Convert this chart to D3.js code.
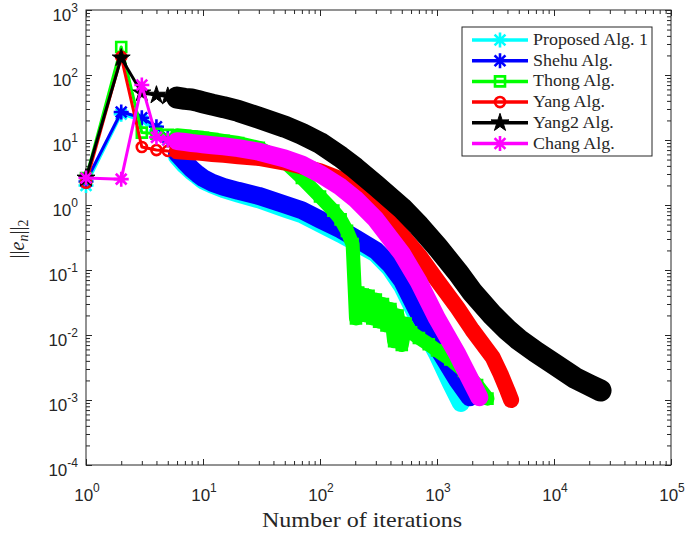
<!DOCTYPE html>
<html><head><meta charset="utf-8">
<script src="https://cdn.jsdelivr.net/npm/d3@7"></script>
<style>body{margin:0;background:#fff}svg{display:block}</style>
</head><body><svg id="c" width="685" height="533"></svg>
<script>
// ---------- data ----------
const xTickVals = [1, 10, 100, 1000, 10000, 100000];
const xTickExp  = ["0", "1", "2", "3", "4", "5"];
const yTickVals = [1e3, 1e2, 1e1, 1, 1e-1, 1e-2, 1e-3, 1e-4];
const yTickExp  = ["3", "2", "1", "0", "-1", "-2", "-3", "-4"];
const seriesNames = ["Proposed Alg. 1", "Shehu Alg.", "Thong Alg.", "Yang Alg.", "Yang2 Alg.", "Chang Alg."];

const propIter = [1,2,3,4,5,6,7,8,9,10,12,15,20,30,50,70,100,150,200,300,400,500,700,1000,1300,1600];
const propVal  = [2.0,25,20,14,10,5.6,4.1,3.3,2.8,2.4,2.05,1.75,1.5,1.22,0.88,0.72,0.52,0.36,0.27,0.18,0.105,0.058,0.017,0.0052,0.0019,0.0009];

const shehuIter = [1,2,3,4,5,6,7,8,9,10,12,15,20,30,50,70,100,150,200,300,400,500,700,1000,1500,1900];
const shehuVal  = [2.3,27,22,16,11,6.2,4.6,3.6,3.0,2.6,2.2,1.9,1.65,1.38,1.02,0.83,0.6,0.42,0.31,0.2,0.12,0.07,0.021,0.0066,0.002,0.0011];

const thongIter = [1,2,3,4,5,6,7,8,9,10,12,15,20,30,50,70,100,130,150,170,190,198,203,212,220,232,245,260,280,300,320,345,370,400,430,460,500,540,600,700,850,1000,1300,1700,2200,2700];
const thongVal  = [2.6,270,13,12.5,12,11.8,11.5,11.2,11,10.8,10.3,9.7,9.0,7.6,4.6,2.6,1.35,0.82,0.6,0.4,0.25,0.05,0.018,0.045,0.02,0.042,0.02,0.04,0.018,0.035,0.016,0.03,0.014,0.025,0.008,0.02,0.007,0.015,0.011,0.009,0.0072,0.0058,0.0042,0.0028,0.0017,0.00105];

const yangIter = [1,2,3,4,5,6,7,8,9,10,12,15,20,30,50,70,100,150,200,300,500,700,1000,1500,2000,3000,3500,4000,4300];
const yangVal  = [2.2,190,7.8,7.0,6.8,6.7,6.6,6.5,6.4,6.3,6.1,5.9,5.6,5.3,4.5,3.9,3.3,2.5,1.8,0.95,0.35,0.17,0.07,0.026,0.012,0.0045,0.0025,0.0014,0.001];

const yang2Iter = [1,2,3,4,5,6,7,8,9,10,12,15,20,30,50,70,100,150,200,300,500,700,1000,1500,2000,3000,4000,5000,7000,10000,15000,20000,25000];
const yang2Val  = [2.6,183,53,49,47,45,43,42,40,38,35,32,28,22,16,12.4,9,5.5,3.7,2.0,0.9,0.48,0.23,0.093,0.046,0.02,0.012,0.0085,0.0055,0.0036,0.0022,0.0017,0.0014];

const changIter = [1,2,3,4,5,6,7,8,9,10,12,15,20,30,50,70,100,150,200,300,500,700,1000,1500,2000,2300];
const changVal  = [2.6,2.5,70,11,10,9.6,9.3,9.0,8.8,8.6,8.3,8.0,7.5,6.6,5.2,4.2,3.0,1.9,1.25,0.6,0.18,0.065,0.018,0.005,0.0018,0.0011];

const seriesIters = [propIter, shehuIter, thongIter, yangIter, yang2Iter, changIter];
const seriesVals  = [propVal, shehuVal, thongVal, yangVal, yang2Val, changVal];

// ---------- styles ----------
const colors  = ["#00ffff", "#0000ff", "#00ff00", "#ff0000", "#000000", "#ff00ff"];
const markers = ["asterisk", "asterisk", "square", "circle", "star", "asterisk"];
const bandW   = [18, 18, 14, 16, 22, 18];
const axisCol = "#262626";

const svg = d3.select("#c");
const L = 86, R = 671, T = 10, B = 465;
const x = d3.scaleLog().domain([1, 1e5]).range([L, R]);
const y = d3.scaleLog().domain([1e-4, 1e3]).range([B, T]);

function markerPath(type) {
  if (type === "asterisk") {
    const r = 7.5, a = r * 0.72;
    return `M0,${-r}L0,${r}M${-r},0L${r},0M${-a},${-a}L${a},${a}M${-a},${a}L${a},${-a}`;
  }
  if (type === "square") { const s = 5; return `M${-s},${-s}H${s}V${s}H${-s}Z`; }
  if (type === "circle") { return d3.symbol(d3.symbolCircle, 80)(); }
  return d3.symbol(d3.symbolStar, 100)();
}
function drawMarker(g, type, col, tx, ty) {
  const p = g.append("path").attr("d", markerPath(type)).attr("transform", `translate(${tx},${ty})`);
  if (type === "star") p.attr("fill", col).attr("stroke", col).attr("stroke-width", 1);
  else p.attr("fill", "none").attr("stroke", col).attr("stroke-width", 2.6).attr("stroke-linecap", "butt");
}

// ---------- axes (ticks) ----------
const minorX = [], minorY = [];
for (let e = 0; e < 5; e++) for (let k = 2; k <= 9; k++) minorX.push(k * Math.pow(10, e));
for (let e = -4; e < 3; e++) for (let k = 2; k <= 9; k++) minorY.push(k * Math.pow(10, e));

function tickAxis(axisFn, scale, vals, size, tr) {
  const g = svg.append("g").attr("transform", tr)
    .call(axisFn(scale).tickValues(vals).tickSize(size).tickFormat(""));
  g.select(".domain").remove();
  g.selectAll("line").attr("stroke", axisCol).attr("stroke-width", 1);
}
tickAxis(d3.axisBottom, x, xTickVals, -6, `translate(0,${B})`);
tickAxis(d3.axisBottom, x, minorX, -4, `translate(0,${B})`);
tickAxis(d3.axisTop, x, xTickVals, -6, `translate(0,${T})`);
tickAxis(d3.axisTop, x, minorX, -4, `translate(0,${T})`);
tickAxis(d3.axisLeft, y, yTickVals, -6, `translate(${L},0)`);
tickAxis(d3.axisLeft, y, minorY, -4, `translate(${L},0)`);
tickAxis(d3.axisRight, y, yTickVals, -6, `translate(${R},0)`);
tickAxis(d3.axisRight, y, minorY, -4, `translate(${R},0)`);

svg.append("rect").attr("x", L).attr("y", T).attr("width", R - L).attr("height", B - T)
  .attr("fill", "none").attr("stroke", axisCol).attr("stroke-width", 1);

// tick labels
xTickVals.forEach((v, i) => {
  const t = svg.append("text").attr("x", x(v) + 1).attr("y", 501).attr("text-anchor", "middle")
    .attr("font-family", "Liberation Sans, Arial, sans-serif").attr("font-size", 17).attr("fill", axisCol);
  t.append("tspan").text("10");
  t.append("tspan").attr("dy", -9).attr("font-size", 12).text(xTickExp[i]);
});
yTickVals.forEach((v, i) => {
  const t = svg.append("text").attr("x", 78).attr("y", y(v) + 11).attr("text-anchor", "end")
    .attr("font-family", "Liberation Sans, Arial, sans-serif").attr("font-size", 17).attr("fill", axisCol);
  t.append("tspan").text("10");
  t.append("tspan").attr("dy", -9).attr("font-size", 12).text(yTickExp[i]);
});

// axis labels
svg.append("text").attr("x", 362).attr("y", 527).attr("text-anchor", "middle")
  .attr("font-family", "Liberation Serif, serif").attr("font-size", 21).attr("fill", axisCol)
  .attr("textLength", 200).attr("lengthAdjust", "spacingAndGlyphs")
  .text("Number of iterations");
const yl = svg.append("text").attr("transform", "translate(24,239) rotate(-90)").attr("text-anchor", "middle")
  .attr("font-family", "Liberation Serif, serif").attr("font-size", 20).attr("fill", axisCol);
yl.append("tspan").text("||");
yl.append("tspan").attr("font-style", "italic").text("e");
yl.append("tspan").attr("font-style", "italic").attr("font-size", 14).attr("dy", 4).text("n");
yl.append("tspan").attr("dy", -4).text("||");
yl.append("tspan").attr("font-size", 14).attr("dy", 4).text("2");

// ---------- series ----------
const line = d3.line().x(d => x(d[0])).y(d => y(d[1]));
seriesIters.forEach((its, s) => {
  const pts = its.map((n, i) => [n, seriesVals[s][i]]);
  const g = svg.append("g");
  g.append("path").attr("d", line(pts)).attr("fill", "none").attr("stroke", colors[s])
    .attr("stroke-width", 3).attr("stroke-linejoin", "round");
  const dense = pts.filter(d => d[0] >= 6);
  g.append("path").attr("d", line(dense)).attr("fill", "none").attr("stroke", colors[s])
    .attr("stroke-width", bandW[s]).attr("stroke-linejoin", "round").attr("stroke-linecap", "round");
  pts.forEach(d => drawMarker(g, markers[s], colors[s], x(d[0]), y(d[1])));
});

// ---------- legend ----------
const lg = svg.append("g");
lg.append("rect").attr("x", 462).attr("y", 27).attr("width", 190).attr("height", 129)
  .attr("fill", "#fff").attr("stroke", axisCol).attr("stroke-width", 1);
seriesNames.forEach((name, s) => {
  const ry = 40 + s * 20.7;
  lg.append("line").attr("x1", 472).attr("x2", 528).attr("y1", ry).attr("y2", ry)
    .attr("stroke", colors[s]).attr("stroke-width", 3.5);
  drawMarker(lg, markers[s], colors[s], 500, ry);
  const t = lg.append("text").attr("x", 533).attr("y", ry + 5).attr("font-family", "Liberation Serif, serif")
    .attr("font-size", 16).attr("fill", axisCol).text(name);
  const w = t.node().getComputedTextLength();
  t.attr("textLength", w * 1.12).attr("lengthAdjust", "spacingAndGlyphs");
});
</script></body></html>
